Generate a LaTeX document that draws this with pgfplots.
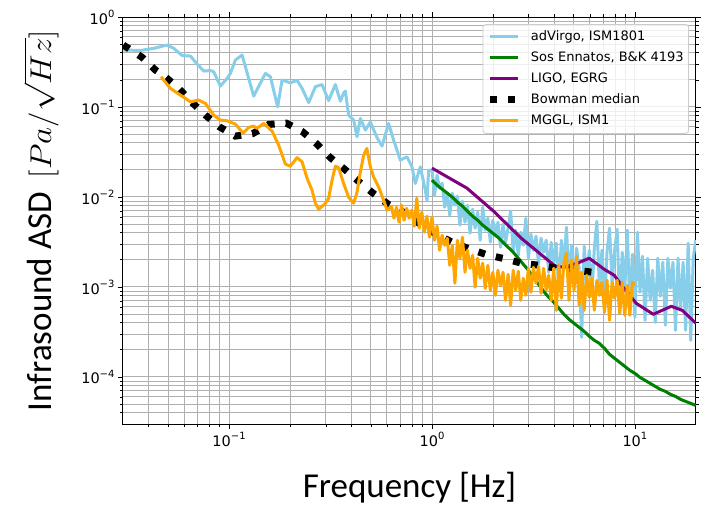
\documentclass[border=0pt]{standalone}
\usepackage{fontspec}
\usepackage{graphicx}
\usepackage{pgfplots}
\pgfplotsset{compat=1.18}
\newfontfamily\dejavu{DejaVu Sans}
\newfontfamily\carlito{Carlito}
\definecolor{cSky}{RGB}{135,206,235}
\definecolor{cGreen}{RGB}{0,128,0}
\definecolor{cPurple}{RGB}{128,0,128}
\definecolor{cOrange}{RGB}{255,165,0}
\definecolor{cGrid}{RGB}{176,176,176}
\definecolor{cFrame}{RGB}{204,204,204}
\newcommand{\tp}[1]{10\raisebox{0.48em}{\fontsize{10}{10}\selectfont#1}}
\begin{document}
\begin{tikzpicture}
\begin{axis}[
  width=573pt, height=407pt, scale only axis,
  xmode=log, ymode=log,
  xmin=0.03, xmax=20, ymin=3e-5, ymax=1,
  axis line style={black, line width=1pt},
  grid=both,
  major grid style={cGrid, line width=1pt},
  minor grid style={cGrid, line width=1pt},
  tick align=outside,
  major tick length=5pt, minor tick length=3pt,
  tick style={black, line width=0.8pt},
  xtick={0.1,1,10},
  xticklabels={\tp{−1},\tp{0},\tp{1}},
  minor xtick={0.04,0.05,0.06,0.07,0.08,0.09,0.2,0.3,0.4,0.5,0.6,0.7,0.8,0.9,2,3,4,5,6,7,8,9},
  ytick={1e-4,1e-3,1e-2,1e-1,1},
  yticklabels={\tp{−4},\tp{−3},\tp{−2},\tp{−1},\tp{0}},
  minor ytick={4e-5,5e-5,6e-5,7e-5,8e-5,9e-5,2e-4,3e-4,4e-4,5e-4,6e-4,7e-4,8e-4,9e-4,2e-3,3e-3,4e-3,5e-3,6e-3,7e-3,8e-3,9e-3,0.02,0.03,0.04,0.05,0.06,0.07,0.08,0.09,0.2,0.3,0.4,0.5,0.6,0.7,0.8,0.9},
  tick label style={font=\dejavu\fontsize{14.5}{16}\selectfont},
  xlabel={Frequency [Hz]},
  xlabel style={font=\carlito\fontsize{35}{40}\selectfont, at={(axis description cs:0.5,-0.1794)}, anchor=base},
  ylabel={Infrasound ASD\hspace{0.4em}\scalebox{1.6}[1.45]{\fontsize{20}{24}\selectfont$[Pa/\sqrt{Hz}]$}},
  ylabel style={font=\carlito\fontsize{35}{40}\selectfont, inner sep=0pt, at={(axis description cs:-0.143,0.5)}, anchor=center},
  legend cell align=left,
  legend image code/.code={\draw[#1] (0pt,0pt) -- (28pt,0pt);},
  legend style={at={(1,1)}, anchor=north east, xshift=-7pt, yshift=-7pt,
    font=\dejavu\fontsize{13}{15}\selectfont,
    draw=cFrame, line width=0.8pt, rounded corners=3pt,
    fill=white, fill opacity=0.8, text opacity=1,
    inner xsep=4pt, inner ysep=5pt, row sep=6pt,
    nodes={inner sep=1pt, text height=10pt, text depth=3pt},
    /tikz/every odd column/.append style={column sep=8pt}},
]
\coordinate (SW) at (rel axis cs:0,0);
\coordinate (NE) at (rel axis cs:1,1);

% adVirgo, ISM1801
\addplot[cSky, line width=3pt, line join=round] coordinates {
(0.0301,0.4294)(0.03144,0.4294)(0.03656,0.4240)(0.03946,0.4372)(0.04251,0.4485)(0.04948,0.4884)(0.05335,0.4485)(0.05868,0.3730)(0.06449,0.3683)(0.06958,0.3000)(0.07495,0.2507)(0.08089,0.2540)(0.08397,0.2463)(0.09060,0.1708)(0.09775,0.2080)(0.1015,0.2364)(0.1074,0.3323)(0.1159,0.3778)(0.1322,0.1322)(0.1510,0.2364)(0.1598,0.2168)(0.1735,0.1005)(0.1824,0.1991)(0.2004,0.1858)(0.2163,0.1976)(0.2289,0.1610)(0.2467,0.1119)(0.2662,0.1678)(0.2871,0.1775)(0.3094,0.1178)(0.3339,0.1775)(0.3534,0.1163)(0.3668,0.1428)(0.3740,0.1502)(0.3883,0.08126)(0.4110,0.07148)(0.4271,0.04662)(0.4435,0.07467)(0.4694,0.05534)(0.4969,0.06792)(0.5360,0.04567)(0.5672,0.03674)(0.6111,0.06570)(0.6468,0.04283)(0.6723,0.03316)(0.6979,0.02566)(0.7528,0.02793)(0.7970,0.02162)(0.8273,0.01413)(0.8757,0.02162)(0.9268,0.01190)(0.9449,0.009213)(0.9623,0.01987)
(1.000,0.01987)(1.029,0.01047)(1.059,0.01748)(1.090,0.01253)(1.122,0.01424)(1.155,0.007701)(1.189,0.01102)(1.223,0.006273)(1.259,0.01102)(1.296,0.008106)
(1.334,0.01021)(1.372,0.004857)(1.413,0.008982)(1.454,0.005244)(1.496,0.008106)(1.540,0.003957)(1.585,0.007317)(1.631,0.004497)(1.679,0.006776)(1.728,0.003307)
(1.778,0.007701)(1.830,0.004273)(1.884,0.005808)(1.939,0.003143)(1.995,0.005518)(2.054,0.003664)(2.113,0.005244)(2.175,0.002765)(2.239,0.004982)(2.304,0.003143)
(2.371,0.004497)(2.441,0.006951)(2.512,0.002496)(2.585,0.004273)(2.661,0.002253)(2.738,0.004059)(2.818,0.002910)(2.901,0.005808)(2.985,0.002086)(3.072,0.003857)
(3.162,0.002561)(3.255,0.003664)(3.350,0.001789)(3.447,0.003481)(3.548,0.002433)(3.652,0.003307)(3.758,0.001457)(3.868,0.003143)(3.981,0.001883)(4.097,0.003063)
(4.217,0.0009190)(4.340,0.003307)(4.467,0.001614)(4.597,0.004614)(4.732,0.001128)(4.870,0.002910)(5.012,0.001044)(5.158,0.002695)(5.309,0.001614)(5.464,0.0002757)
(5.623,0.002837)(5.788,0.001187)(5.957,0.002561)(6.131,0.0007880)(6.310,0.002695)(6.494,0.005379)(6.683,0.0009672)(6.879,0.002561)(7.079,0.0006256)(7.286,0.002433)
(7.499,0.004497)(7.718,0.001099)(7.943,0.002561)(8.175,0.004384)(8.414,0.0005098)(8.660,0.002433)(8.913,0.0009190)(9.173,0.004273)(9.441,0.0005795)(9.716,0.002311)
(10.00,0.0004601)(10.29,0.004059)(10.59,0.0008730)(10.90,0.002196)(11.22,0.0004262)(11.55,0.002086)(11.89,0.0007112)(12.23,0.001534)(12.59,0.0004048)(12.96,0.002086)
(13.34,0.0007880)(13.72,0.001883)(14.13,0.0003749)(14.54,0.002086)(14.96,0.0009672)(15.40,0.001883)(15.85,0.0003298)(16.31,0.002086)(16.79,0.0005505)(17.28,0.001883)
(17.78,0.0003298)(18.30,0.003063)(18.84,0.0002553)(19.39,0.002086)(19.95,0.003307)
};
\addlegendentry{adVirgo, ISM1801}

% Sos Ennatos, B&K 4193
\addplot[cGreen, line width=3pt, line join=round] coordinates {
(1.000,0.01538)(1.059,0.01353)(1.122,0.01221)(1.189,0.01102)(1.259,0.009949)(1.334,0.008754)(1.413,0.007900)(1.496,0.006951)(1.585,0.006114)(1.679,0.005518)
(1.778,0.004857)(1.884,0.004384)(1.995,0.003957)(2.113,0.003571)(2.239,0.003143)(2.371,0.002765)(2.512,0.002433)(2.661,0.002086)(2.818,0.001789)(2.985,0.001534)
(3.162,0.001282)(3.350,0.001072)(3.548,0.0008957)(3.758,0.0007682)(3.981,0.0006759)(4.217,0.0005795)(4.467,0.0004970)(4.732,0.0004371)(5.012,0.0003947)(5.309,0.0003561)
(5.623,0.0003215)(5.957,0.0002828)(6.310,0.0002553)(6.683,0.0002364)(7.079,0.0002080)(7.499,0.0001784)(7.943,0.0001610)(8.414,0.0001453)(8.913,0.0001312)(9.441,0.0001184)
(10.00,0.0001096)(10.59,0.00009897)(11.22,0.00009167)(11.89,0.00008487)(12.59,0.00007858)(13.34,0.00007278)(14.13,0.00006915)(14.96,0.00006403)(15.85,0.00006083)(16.79,0.00005632)
(17.78,0.00005352)(18.84,0.00005084)(19.95,0.00004830)
};
\addlegendentry{Sos Ennatos, B\&K 4193}

% LIGO, EGRG
\addplot[cPurple, line width=3pt, line join=round] coordinates {
(1.000,0.02091)(1.487,0.01253)(2.011,0.006951)(2.754,0.003481)(3.339,0.002433)(4.050,0.001699)(4.484,0.001656)(5.196,0.001835)(5.956,0.002086)(7.060,0.001573)
(7.907,0.001349)(8.660,0.001018)(10.15,0.0006588)(12.31,0.0004970)(15.10,0.0006099)(17.10,0.0005505)(20.0,0.0003947)
};
\addlegendentry{LIGO, EGRG}

% Bowman median
\addplot[black, line width=7pt, line cap=butt, dash pattern=on 7pt off 11pt] coordinates {
(0.0301,0.4884)(0.03144,0.4578)(0.03727,0.3562)(0.04334,0.2573)(0.04729,0.2264)(0.05646,0.1610)(0.06500,0.1148)(0.07641,0.08125)(0.08957,0.06020)(0.1074,0.04746)
(0.1307,0.05059)(0.1571,0.06400)(0.1915,0.06618)(0.2297,0.05326)(0.2714,0.03867)(0.3155,0.02736)(0.3740,0.02002)(0.4375,0.01472)(0.5196,0.01074)(0.6111,0.008253)
(0.7386,0.006604)(0.8590,0.005150)(1.038,0.003926)(1.2547,0.003143)(1.544,0.002627)(1.866,0.002281)(2.258,0.002069)(2.776,0.001835)(3.371,0.001743)(4.129,0.001614)
(5.023,0.001534)(6.232,0.001457)(6.6,0.00144)
};
\addlegendentry{Bowman median}

% MGGL, ISM1
\addplot[cOrange, line width=3pt, line join=round] coordinates {
(0.04624,0.2168)(0.05138,0.1610)(0.05756,0.1356)(0.06449,0.1142)(0.07084,0.1193)(0.07641,0.1096)(0.08397,0.08126)(0.09060,0.07148)(0.09775,0.07021)(0.1074,0.06452)
(0.1172,0.05126)(0.1249,0.05930)(0.1322,0.06131)(0.1374,0.05779)(0.1481,0.06570)(0.1629,0.05395)(0.1755,0.03770)(0.1894,0.02317)(0.2004,0.02201)(0.2163,0.02736)
(0.2289,0.02457)(0.2422,0.01619)(0.2563,0.01190)(0.2662,0.008532)(0.2764,0.007317)(0.2982,0.008467)(0.3094,0.009697)(0.3217,0.01538)(0.3339,0.02201)(0.3466,0.02118)
(0.3668,0.01413)(0.3883,0.009949)(0.4110,0.008532)(0.4271,0.01131)(0.4435,0.01887)(0.4604,0.02917)(0.4773,0.03463)(0.4969,0.02162)(0.5154,0.01673)(0.5456,0.01295)
(0.5776,0.009213)(0.6003,0.007131)
(0.6310,0.007900)(0.6494,0.005808)(0.6683,0.007701)(0.6879,0.005244)(0.7079,0.008106)(0.7286,0.005518)(0.7499,0.007506)(0.7718,0.005808)(0.7943,0.007131)(0.8175,0.004731)
(0.8414,0.009697)(0.8660,0.004497)(0.8913,0.006776)(0.9173,0.004059)(0.9441,0.006114)(0.9716,0.003571)
(1.000,0.005962)(1.029,0.003307)(1.059,0.004731)(1.090,0.002561)(1.122,0.003759)(1.155,0.002910)(1.189,0.003481)(1.223,0.001743)(1.259,0.002910)(1.296,0.001099)
(1.334,0.003307)(1.372,0.002086)(1.413,0.003571)(1.454,0.001457)(1.496,0.002561)(1.540,0.001614)(1.585,0.002253)(1.631,0.0009924)(1.679,0.002086)(1.728,0.001250)
(1.778,0.001835)(1.830,0.0009672)(1.884,0.001743)(1.939,0.0009190)(1.995,0.001457)(2.054,0.0008086)(2.113,0.001534)(2.175,0.001044)(2.239,0.001457)(2.304,0.0007112)
(2.371,0.001384)(2.441,0.0006256)(2.512,0.001534)(2.585,0.0009190)(2.661,0.001495)(2.738,0.0007112)(2.818,0.001250)(2.901,0.0008086)(2.985,0.001614)(3.072,0.0008730)
(3.162,0.001656)(3.255,0.001099)(3.350,0.001699)(3.447,0.0008510)(3.548,0.001614)(3.652,0.0009190)(3.758,0.001349)(3.868,0.0007112)(3.981,0.001614)(4.097,0.0005505)
(4.217,0.001743)(4.340,0.0007488)(4.467,0.001883)(4.597,0.002370)(4.732,0.0007112)(4.870,0.001982)(5.012,0.0009190)(5.158,0.002196)(5.309,0.0006256)(5.464,0.001457)
(5.623,0.0005505)(5.788,0.001349)(5.957,0.0007682)(6.131,0.001250)(6.310,0.0005505)(6.494,0.001187)(6.683,0.0008086)(6.879,0.001128)(7.079,0.0005231)(7.286,0.001187)
(7.499,0.0004262)(7.718,0.001128)(7.943,0.0007488)(8.175,0.001187)(8.414,0.0005098)(8.660,0.001128)(8.913,0.0004843)(9.173,0.001044)(9.441,0.0004843)(9.716,0.001128)
(10.00,0.001044)
};
\addlegendentry{MGGL, ISM1}
\end{axis}
\pgfresetboundingbox
\path[use as bounding box] ([xshift=-123pt,yshift=-88pt]SW) rectangle ([xshift=9pt,yshift=17pt]NE);
\end{tikzpicture}
\end{document}
